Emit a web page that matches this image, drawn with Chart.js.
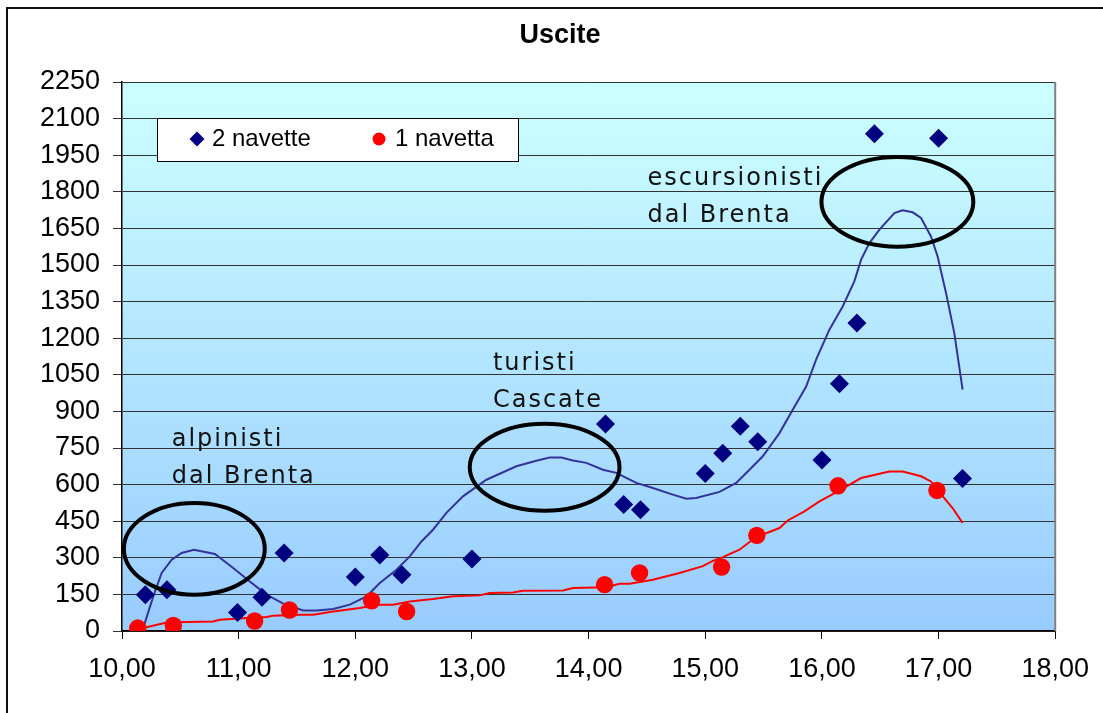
<!DOCTYPE html>
<html>
<head>
<meta charset="utf-8">
<script src="https://cdn.jsdelivr.net/npm/chart.js@4.4.1/dist/chart.umd.min.js"></script>
<style>
html,body{margin:0;padding:0;background:#fff;}
#wrap{width:1103px;height:713px;position:relative;}
</style>
</head>
<body>
<div id="wrap"><canvas id="c" width="1103" height="713"></canvas></div>
<script>
// ---- data ----
const chartTitle = 'Uscite';
const seriesNames = ['2 navette', '1 navetta'];
const xMin = 10, xMax = 18, xStep = 1;
const yMin = 0, yMax = 2250, yStep = 150;

// "2 navette" observations (hour, exits)
const navette2X = [10.20, 10.385, 10.99, 11.20, 11.39, 12.00, 12.21, 12.40, 13.00, 14.145, 14.30, 14.445, 15.00, 15.15, 15.30, 15.45, 16.00, 16.15, 16.30, 16.45, 17.00, 17.205];
const navette2Y = [149, 169, 76, 138, 320, 221, 311, 231, 295, 848, 518, 497, 646, 728, 839, 776, 701, 1013, 1262, 2038, 2019, 625];

// "1 navetta" observations
const navetta1X = [10.135, 10.44, 11.137, 11.436, 12.14, 12.44, 14.137, 14.437, 15.14, 15.442, 16.138, 16.986];
const navetta1Y = [12, 23, 41, 86, 124, 80, 190, 238, 262, 392, 595, 576];

// trend curve for "2 navette"
const trend2X = [10.182, 10.268, 10.340, 10.426, 10.511, 10.617, 10.797, 10.953, 11.096, 11.239, 11.382, 11.553, 11.668, 11.810, 11.953, 12.096, 12.210, 12.353, 12.467, 12.567, 12.666, 12.781, 12.923, 13.124, 13.381, 13.552, 13.666, 13.766, 13.866, 13.980, 14.123, 14.237, 14.409, 14.551, 14.722, 14.837, 14.922, 15.122, 15.265, 15.379, 15.493, 15.636, 15.750, 15.865, 15.950, 16.064, 16.178, 16.278, 16.336, 16.407, 16.493, 16.621, 16.692, 16.778, 16.850, 16.935, 16.992, 17.064, 17.135, 17.206];
const trend2Y = [12, 142, 238, 292, 320, 333, 316, 258, 203, 149, 112, 84, 84, 90, 108, 142, 197, 251, 306, 367, 415, 484, 552, 620, 675, 698, 711, 711, 699, 689, 661, 648, 607, 586, 559, 542, 545, 570, 607, 661, 716, 811, 907, 1002, 1112, 1235, 1330, 1433, 1522, 1590, 1645, 1713, 1724, 1716, 1693, 1617, 1535, 1385, 1221, 989];

// trend curve for "1 navetta"
const trend1X = [10.182, 10.383, 10.554, 10.782, 10.839, 11.068, 11.239, 11.296, 11.525, 11.639, 11.810, 12.039, 12.182, 12.324, 12.467, 12.666, 12.838, 13.066, 13.152, 13.352, 13.437, 13.780, 13.866, 14.152, 14.266, 14.351, 14.551, 14.779, 14.979, 15.065, 15.150, 15.293, 15.436, 15.636, 15.707, 15.850, 15.979, 16.122, 16.336, 16.578, 16.692, 16.850, 16.935, 17.049, 17.120, 17.206];
const trend1Y = [12, 35, 37, 39, 46, 53, 57, 63, 67, 67, 80, 94, 108, 108, 121, 131, 142, 146, 156, 158, 165, 166, 176, 179, 194, 194, 210, 238, 266, 287, 303, 333, 385, 422, 453, 490, 531, 568, 627, 654, 654, 634, 613, 545, 504, 443];

// annotation texts
const noteTexts = [['alpinisti', 'dal Brenta'], ['turisti', 'Cascate'], ['escursionisti', 'dal Brenta']];

// ---- helpers ----
const pts = (xs, ys) => xs.map((x, i) => ({x: x, y: ys[i]}));
const fmtComma = v => Number(v).toFixed(2).replace('.', ',');
const AXIS_FONT = 'Liberation Sans, Arial, sans-serif';

// annotation placement (data coordinates)
const noteAnchors = [{x: 10.426, y: 757}, {x: 13.18, y: 1068}, {x: 14.505, y: 1829}];
const ellipseDefs = [
  {cx: 10.62, cy: 337, rx: 0.604, ry: 188},
  {cx: 13.623, cy: 671, rx: 0.642, ry: 178},
  {cx: 16.647, cy: 1759, rx: 0.651, ry: 184}
];

const decorPlugin = {
  id: 'decor',
  beforeDraw(chart) {
    const ctx = chart.ctx, a = chart.chartArea;
    ctx.save();
    ctx.fillStyle = '#ffffff';
    ctx.fillRect(0, 0, chart.width, chart.height);
    // outer frame
    ctx.strokeStyle = '#111';
    ctx.lineWidth = 2;
    ctx.beginPath();
    ctx.moveTo(7, chart.height + 5);
    ctx.lineTo(7, 8);
    ctx.lineTo(chart.width + 5, 8);
    ctx.stroke();
    // plot background gradient
    const g = ctx.createLinearGradient(0, a.top, 0, a.bottom);
    g.addColorStop(0, '#CCFFFF');
    g.addColorStop(1, '#99CCFF');
    ctx.fillStyle = g;
    ctx.fillRect(a.left, a.top, a.right - a.left, a.bottom - a.top);
    ctx.restore();
  },
  afterDraw(chart) {
    const ctx = chart.ctx, a = chart.chartArea;
    const xs = chart.scales.x, ys = chart.scales.y;
    ctx.save();
    // right border of plot area
    ctx.strokeStyle = '#808080';
    ctx.lineWidth = 2;
    ctx.beginPath();
    ctx.moveTo(a.right, a.top);
    ctx.lineTo(a.right, a.bottom);
    ctx.stroke();

    // ellipses
    ctx.strokeStyle = '#000';
    ctx.lineWidth = 4;
    ellipseDefs.forEach(e => {
      const px = xs.getPixelForValue(e.cx), py = ys.getPixelForValue(e.cy);
      const rx = xs.getPixelForValue(e.cx + e.rx) - px;
      const ry = py - ys.getPixelForValue(e.cy + e.ry);
      ctx.beginPath();
      ctx.ellipse(px, py, rx, ry, 0, 0, Math.PI * 2);
      ctx.stroke();
    });

    // annotation texts
    ctx.fillStyle = '#111';
    ctx.font = '24px "DejaVu Sans", Verdana, sans-serif';
    ctx.textAlign = 'left';
    ctx.textBaseline = 'alphabetic';
    if ('letterSpacing' in ctx) ctx.letterSpacing = '2px';
    noteTexts.forEach((lines, i) => {
      const px = xs.getPixelForValue(noteAnchors[i].x), py = ys.getPixelForValue(noteAnchors[i].y);
      lines.forEach((t, j) => ctx.fillText(t, px, py + j * 37));
    });
    if ('letterSpacing' in ctx) ctx.letterSpacing = '0px';

    // legend box
    const lx = a.left + 35, ly = a.top + 36, lw = 361, lh = 43;
    ctx.fillStyle = '#fff';
    ctx.fillRect(lx, ly, lw, lh);
    ctx.strokeStyle = '#000';
    ctx.lineWidth = 1;
    ctx.strokeRect(lx + 0.5, ly + 0.5, lw, lh);
    const ds = chart.data.datasets;
    const entries = [
      {d: ds[0], mx: lx + 40, tx: lx + 55},
      {d: ds[1], mx: lx + 222, tx: lx + 238}
    ];
    ctx.font = '24px ' + AXIS_FONT;
    ctx.textBaseline = 'alphabetic';
    entries.forEach(en => {
      const my = ly + 21;
      ctx.fillStyle = en.d.backgroundColor;
      ctx.beginPath();
      if (en.d.pointStyle === 'rectRot') {
        const r = 7.5;
        ctx.moveTo(en.mx, my - r); ctx.lineTo(en.mx + r, my);
        ctx.lineTo(en.mx, my + r); ctx.lineTo(en.mx - r, my);
        ctx.closePath();
      } else {
        ctx.arc(en.mx, my, 6.5, 0, Math.PI * 2);
      }
      ctx.fill();
      ctx.fillStyle = '#000';
      ctx.fillText(en.d.label, en.tx, ly + 28);
    });

    // title
    ctx.fillStyle = '#000';
    ctx.font = 'bold 27px ' + AXIS_FONT;
    ctx.textAlign = 'center';
    ctx.textBaseline = 'alphabetic';
    ctx.fillText(chartTitle, 560, 43);
    ctx.restore();
  }
};

new Chart(document.getElementById('c'), {
  type: 'scatter',
  data: {
    datasets: [
      {label: seriesNames[0], data: pts(navette2X, navette2Y), pointStyle: 'rectRot', pointRadius: 9.5, pointHoverRadius: 9.5,
       backgroundColor: '#000080', borderColor: '#000080', borderWidth: 0, showLine: false, order: 0},
      {label: seriesNames[1], data: pts(navetta1X, navetta1Y), pointStyle: 'circle', pointRadius: 8.7, pointHoverRadius: 8.7,
       backgroundColor: '#FF0000', borderColor: '#FF0000', borderWidth: 0, showLine: false, order: 0},
      {label: 'trend2', data: pts(trend2X, trend2Y), showLine: true, pointRadius: 0, borderColor: '#333399', borderWidth: 2,
       tension: 0, fill: false, order: 1},
      {label: 'trend1', data: pts(trend1X, trend1Y), showLine: true, pointRadius: 0, borderColor: '#FF0000', borderWidth: 2,
       tension: 0, fill: false, order: 1}
    ]
  },
  options: {
    responsive: false,
    animation: false,
    events: [],
    layout: {padding: {top: 82, left: 0, right: 47, bottom: 0}},
    plugins: {legend: {display: false}, title: {display: false}, tooltip: {enabled: false}},
    scales: {
      x: {
        type: 'linear', min: xMin, max: xMax,
        afterFit: s => { s.height = 82; },
        ticks: {stepSize: xStep, autoSkip: false, maxRotation: 0, color: '#000', padding: 14,
                font: {family: AXIS_FONT, size: 27}, callback: v => fmtComma(v)},
        grid: {drawOnChartArea: false, drawTicks: true, tickLength: 8, color: '#000', tickColor: '#000'},
        border: {display: true, color: '#000', width: 1.5}
      },
      y: {
        type: 'linear', min: yMin, max: yMax,
        afterFit: s => { s.width = 122; },
        ticks: {stepSize: yStep, autoSkip: false, color: '#000', padding: 13,
                font: {family: AXIS_FONT, size: 27}, callback: v => String(v)},
        grid: {drawOnChartArea: true, drawTicks: true, tickLength: 9, color: '#333', tickColor: '#333', lineWidth: 1},
        border: {display: true, color: '#000', width: 1.5}
      }
    }
  },
  plugins: [decorPlugin]
});
</script>
</body>
</html>
